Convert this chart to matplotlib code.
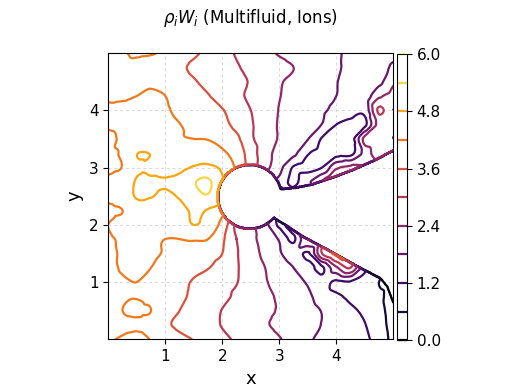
import numpy as np
import matplotlib
matplotlib.use("Agg")
import matplotlib.pyplot as plt
import matplotlib.tri as mtri
from matplotlib.path import Path
from matplotlib.patches import Circle

# ---------------- data ----------------
x_nodes = np.linspace(0.0, 5.0, 21)
y_nodes = np.linspace(0.0, 5.0, 21)

# rho_i W_i values on the node grid, rows listed from y = 5.0 (top) to y = 0.0 (bottom)
row_y500 = [4.10, 4.15, 4.28, 4.25, 4.10, 3.90, 3.70, 3.45, 3.20, 2.95, 2.75, 2.55, 2.35, 2.20, 2.05, 1.90, 1.85, 1.70, 1.60, 1.55, 1.60]
row_y475 = [4.10, 4.10, 4.05, 3.95, 3.85, 3.70, 3.50, 3.35, 3.20, 3.05, 2.85, 2.70, 2.55, 2.40, 2.20, 2.00, 1.85, 1.70, 1.55, 1.60, 1.90]
row_y450 = [4.15, 4.15, 4.15, 4.12, 4.05, 3.85, 3.65, 3.45, 3.30, 3.15, 2.95, 2.70, 2.45, 2.30, 2.15, 2.00, 1.82, 1.60, 1.45, 1.65, 2.30]
row_y425 = [4.12, 4.15, 4.20, 4.27, 4.20, 4.00, 3.80, 3.63, 3.35, 3.12, 2.90, 2.65, 2.42, 2.25, 2.10, 1.95, 1.80, 1.60, 1.45, 2.30, 2.60]
row_y400 = [4.30, 4.30, 4.32, 4.30, 4.25, 4.10, 3.95, 3.80, 3.63, 3.30, 3.00, 2.70, 2.38, 2.20, 2.05, 1.90, 1.65, 1.50, 1.40, 3.10, 2.40]
row_y375 = [4.25, 4.28, 4.30, 4.32, 4.30, 4.21, 4.05, 3.90, 3.75, 3.45, 3.07, 2.70, 2.35, 2.15, 1.98, 1.78, 1.20, 1.00, 1.05, 2.60, 2.60]
row_y350 = [4.12, 4.25, 4.30, 4.30, 4.28, 4.22, 4.20, 4.18, 4.00, 3.72, 3.10, 2.72, 2.35, 2.10, 1.82, 1.15, 0.95, 0.90, 2.60, 2.90, 2.40]
row_y325 = [4.15, 4.25, 4.78, 4.78, 4.40, 4.35, 4.40, 4.50, 4.30, 3.95, 3.30, 2.65, 2.20, 1.95, 1.25, 1.00, 0.95, 1.00, 2.00, 2.80, 2.60]
row_y300 = [4.10, 4.22, 4.70, 4.65, 4.60, 4.65, 4.85, 4.90, 4.70, 4.10, 3.30, 2.60, 2.00, 1.15, 1.00, 1.20, 2.30, 2.50, 2.40, 2.20, 2.30]
row_y275 = [4.30, 4.45, 4.85, 4.90, 4.85, 4.95, 5.35, 5.50, 4.85, 4.30, 3.00, 2.00, 1.60, 1.05, 1.70, 2.40, 3.00, 2.20, 2.00, 2.00, 2.00]
row_y250 = [4.30, 4.45, 4.85, 4.82, 4.70, 4.85, 5.10, 5.35, 4.85, 4.00, 2.50, 1.00, 0.30, 1.50, 1.50, 1.50, 1.50, 1.50, 1.50, 1.50, 1.50]
row_y225 = [4.10, 4.20, 4.50, 4.55, 4.55, 4.60, 4.90, 4.75, 4.40, 3.60, 2.60, 1.60, 1.00, 1.50, 1.50, 1.50, 1.50, 1.50, 1.50, 1.50, 1.50]
row_y200 = [4.20, 4.35, 4.45, 4.50, 4.45, 4.50, 4.80, 4.60, 4.00, 2.90, 2.55, 2.00, 1.10, 1.60, 1.80, 1.80, 1.80, 1.60, 1.50, 1.50, 1.50]
row_y175 = [4.15, 4.25, 4.35, 4.30, 4.20, 4.20, 4.25, 4.20, 3.70, 3.00, 2.60, 2.10, 1.75, 1.10, 2.40, 2.60, 2.50, 2.00, 1.80, 1.50, 1.50]
row_y150 = [4.10, 4.25, 4.35, 4.30, 4.15, 4.00, 3.90, 3.80, 3.60, 3.05, 2.65, 2.25, 1.85, 1.60, 1.12, 3.00, 3.70, 3.20, 2.00, 1.50, 1.00]
row_y125 = [4.05, 4.25, 4.30, 4.20, 4.00, 3.90, 3.75, 3.62, 3.40, 3.05, 2.70, 2.40, 2.05, 1.80, 1.50, 1.10, 2.30, 3.00, 1.40, 0.80, 0.70]
row_y100 = [4.00, 4.15, 4.20, 4.10, 3.95, 3.75, 3.55, 3.35, 3.20, 3.02, 2.75, 2.45, 2.20, 1.95, 1.75, 1.45, 1.10, 1.15, 0.95, 0.60, 0.50]
row_y075 = [3.95, 4.15, 4.19, 4.10, 3.85, 3.70, 3.50, 3.30, 3.15, 2.90, 2.70, 2.55, 2.30, 2.05, 1.88, 1.60, 1.30, 1.10, 0.90, 0.70, 0.40]
row_y050 = [3.95, 4.20, 4.25, 4.20, 3.80, 3.60, 3.42, 3.25, 2.98, 2.80, 2.60, 2.50, 2.35, 2.15, 1.95, 1.78, 1.55, 1.30, 1.10, 0.80, 0.30]
row_y025 = [3.95, 4.10, 4.15, 4.05, 3.70, 3.50, 3.35, 3.20, 2.97, 2.80, 2.65, 2.45, 2.30, 2.15, 2.00, 1.78, 1.55, 1.40, 1.22, 0.85, 0.35]
row_y000 = [4.15, 4.25, 4.30, 4.18, 3.95, 3.75, 3.58, 3.40, 3.15, 2.92, 2.75, 2.60, 2.43, 2.20, 1.90, 1.65, 1.50, 1.40, 1.30, 0.95, 0.40]

levels = [0.0, 0.6, 1.2, 1.8, 2.4, 3.0, 3.6, 4.2, 4.8, 5.4, 6.0]
cbar_ticks = [0.0, 1.2, 2.4, 3.6, 4.8, 6.0]
axis_ticks = [1, 2, 3, 4]

# obstacle (ions flow around it) and the empty wake behind it
body_x, body_y, body_r = 2.48, 2.49, 0.56
wake_upper_x = [3.00, 3.30, 3.59, 4.00, 4.29, 4.70, 5.00, 5.10]
wake_upper_y = [2.62, 2.65, 2.71, 2.85, 2.96, 3.14, 3.30, 3.35]
wake_lower_x = [5.10, 5.00, 4.89, 4.77, 4.41, 3.85, 3.42, 3.10, 2.95]
wake_lower_y = [0.60, 0.63, 0.92, 1.07, 1.25, 1.56, 1.79, 2.00, 2.09]

title = r"$\rho_i W_i$ (Multifluid, Ions)"

# ---------------- field ----------------
rows_top_to_bottom = [row_y500, row_y475, row_y450, row_y425, row_y400, row_y375,
                      row_y350, row_y325, row_y300, row_y275, row_y250, row_y225,
                      row_y200, row_y175, row_y150, row_y125, row_y100, row_y075,
                      row_y050, row_y025, row_y000]
Z = np.array(rows_top_to_bottom)[::-1]
XN, YN = np.meshgrid(x_nodes, y_nodes)
tri = mtri.Triangulation(XN.ravel(), YN.ravel())
interp = mtri.CubicTriInterpolator(tri, Z.ravel(), kind="geom")

xf = np.linspace(0, 5, 501)
yf = np.linspace(0, 5, 501)
XF, YF = np.meshgrid(xf, yf)
ZF = np.ma.filled(interp(XF, YF), 0.0).astype(float)

inside_body = (XF - body_x) ** 2 + (YF - body_y) ** 2 < body_r ** 2
wake_poly = list(zip(wake_upper_x, wake_upper_y)) + list(zip(wake_lower_x, wake_lower_y)) + [(2.6, 2.4)]
inside_wake = Path(wake_poly).contains_points(np.c_[XF.ravel(), YF.ravel()]).reshape(XF.shape)
ZF[inside_body | inside_wake] = -0.05

# ---------------- figure ----------------
fig = plt.figure(figsize=(5.14, 3.92), dpi=100)
ax = fig.add_axes([0.2107, 0.1344, 0.5545, 0.7304])
cax = fig.add_axes([0.773, 0.1319, 0.0185, 0.7304])

ax.set_axisbelow(True)
ax.grid(True, color="#d9d9d9", linestyle=(0, (3, 3)), linewidth=0.7)
ax.add_patch(Circle((body_x, body_y), body_r, facecolor="white", edgecolor="none", zorder=1.5))

cs = ax.contour(XF, YF, ZF, levels=levels, cmap="inferno", vmin=0, vmax=6, linewidths=1.6, zorder=2)

ax.set_xlim(0, 5)
ax.set_ylim(0, 5)
ax.set_xticks(axis_ticks)
ax.set_yticks(axis_ticks)
ax.tick_params(labelsize=11)
ax.set_xlabel("x", fontsize=13)
ax.set_ylabel("y", fontsize=13)

cb = fig.colorbar(cs, cax=cax, ticks=cbar_ticks, format="%.1f")
cb.ax.tick_params(labelsize=11)

fig.text(0.487, 0.953, title, ha="center", va="center", fontsize=12)

fig.savefig("out.png", dpi=100)
